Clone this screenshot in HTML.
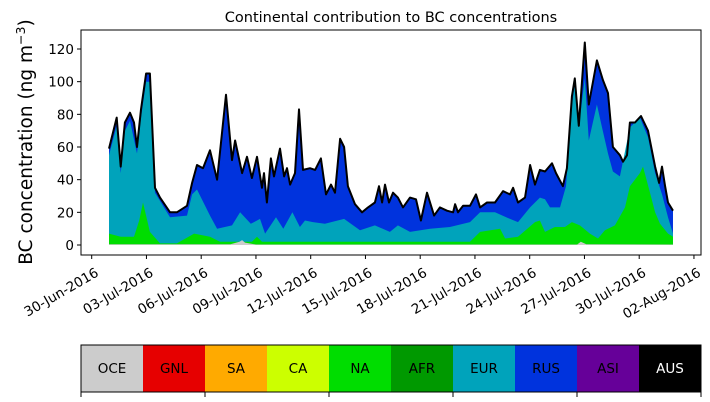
<!DOCTYPE html>
<html><head><meta charset="utf-8"><style>
body{margin:0;background:#fff}
svg{display:block;font-family:"DejaVu Sans","Liberation Sans",sans-serif}
</style></head><body>
<svg id="chart" width="710" height="402" viewBox="0 0 710 402">
<rect width="710" height="402" fill="#fff"/>
<text x="391" y="22" font-size="14.5" text-anchor="middle">Continental contribution to BC concentrations</text>
<text transform="translate(32,142) rotate(-90)" font-size="18.5" text-anchor="middle">BC concentration (ng m<tspan baseline-shift="super" font-size="12.5">−3</tspan>)</text>
<g id="layers"></g>
<g id="yticks"></g>
<g id="xticks"></g>
<rect x="81" y="30" width="620" height="225" fill="none" stroke="#000" stroke-width="1"/>
<g id="legend"></g>
</svg>
<script>
// Data: days since 30-Jun-2016
const totalDays=[0.95,1.37,1.59,1.82,2.10,2.32,2.48,2.70,2.98,3.19,3.47,3.74,4.29,4.67,5.22,5.50,5.77,6.10,6.48,6.87,7.36,7.69,7.86,8.24,8.51,8.78,9.06,9.33,9.44,9.60,9.82,9.99,10.32,10.54,10.70,10.87,11.14,11.36,11.58,11.96,12.24,12.56,12.84,13.11,13.33,13.61,13.83,14.04,14.43,14.81,15.14,15.52,15.74,15.91,16.07,16.29,16.51,16.78,17.06,17.44,17.77,18.04,18.37,18.76,19.08,19.47,19.80,19.91,20.07,20.35,20.73,21.06,21.28,21.66,22.10,22.54,22.92,23.09,23.36,23.74,24.02,24.29,24.56,24.84,25.22,25.44,25.82,26.04,26.31,26.47,26.69,27.02,27.24,27.68,28.01,28.29,28.56,28.94,29.11,29.33,29.49,29.77,30.10,30.48,30.87,31.09,31.25,31.42,31.58,31.85];
const totalValues=[59,78,48,75,81,75,60,83,105,105,35,29,20,20,24,38,49,47,58,40,92,52,64,44,54,41,54,35,44,26,53,42,59,42,47,37,44,83,46,47,46,53,31,37,32,65,60,36,25,20,23,26,36,26,37,26,32,29,23,29,28,15,32,18,23,21,20,25,20,24,24,31,23,26,26,33,31,35,26,29,49,37,46,45,50,44,36,47,91,102,73,124,86,113,101,93,60,55,51,55,75,75,79,70,48,38,48,36,26,21];
const eurDays=[0.95,1.37,1.59,1.82,2.10,2.48,2.70,2.98,3.19,3.47,4.29,5.22,5.50,5.77,6.48,6.87,7.69,8.13,8.72,9.22,9.50,10.10,10.50,11.00,11.41,11.69,12.12,12.78,13.83,14.70,15.52,16.34,16.78,17.44,18.54,19.63,20.73,21.28,22.10,22.92,23.36,24.02,24.56,24.84,25.11,25.66,25.99,26.31,26.47,26.69,27.02,27.24,27.68,27.96,28.29,28.56,28.94,29.49,30.04,30.48,30.87,31.25,31.58,31.85];
const eurValues=[55,73,44,70,76,56,78,100,100,32,17,18,31,34,18,10,12,20,13,16,7,17,10,20,11,15,14,13,16,9,12,8,12,8,10,11,14,20,20,16,14,23,29,28,23,23,36,85,99,72,102,64,86,72,56,45,42,72,78,66,44,31,17,7];
const naDays=[0.95,1.59,2.32,2.60,2.81,3.19,3.74,4.67,5.61,6.48,7.03,7.91,8.78,9.06,9.33,11.00,14.00,17.50,20.73,21.28,22.38,22.65,23.36,24.29,24.56,24.84,25.38,25.93,26.31,26.75,27.30,27.74,28.12,28.67,29.22,29.49,30.04,30.21,30.59,30.87,31.14,31.58,31.85];
const naValues=[7,5,5,15,26,8,1,1,7,5,2,2,2,5,2,2,2,2,2,8,10,4,5,14,15,8,11,11,14,12,7,4,9,12,23,36,44,48,32,20,13,7,5];
const oceDays=[0.95,7.6,8.1,8.24,8.4,9.0,26.6,26.8,27.1,31.85];
const oceValues=[0.5,0.5,2,3,1.5,0.3,0.3,2,0.5,0.3];
const yTicks=[0,20,40,60,80,100,120];
const xTickDays=[0,3,6,9,12,15,18,21,24,27,30,33];
const xTickLabels=["30-Jun-2016","03-Jul-2016","06-Jul-2016","09-Jul-2016","12-Jul-2016","15-Jul-2016","18-Jul-2016","21-Jul-2016","24-Jul-2016","27-Jul-2016","30-Jul-2016","02-Aug-2016"];
const legendNames=["OCE","GNL","SA","CA","NA","AFR","EUR","RUS","ASI","AUS"];
const legendColors=["#cccccc","#e60000","#ffaa00","#ccff00","#00dd00","#009900","#00a3bb","#0033dd","#660099","#000000"];

const NS="http://www.w3.org/2000/svg";
const xS=d=>91.7+d*18.25;
const yS=v=>245-v*(196/120);
function mk(tag,attrs,parent){const e=document.createElementNS(NS,tag);for(const k in attrs)e.setAttribute(k,attrs[k]);parent.appendChild(e);return e;}
function areaPath(days,vals){let d="M"+xS(days[0])+","+yS(0);for(let i=0;i<days.length;i++)d+=" L"+xS(days[i]).toFixed(1)+","+yS(vals[i]).toFixed(1);d+=" L"+xS(days[days.length-1])+","+yS(0)+" Z";return d;}
function linePath(days,vals){let d="";for(let i=0;i<days.length;i++)d+=(i?" L":"M")+xS(days[i]).toFixed(1)+","+yS(vals[i]).toFixed(1);return d;}
const layers=document.getElementById('layers');
let p;
p=mk('path',{d:areaPath(totalDays,totalValues),fill:'#0033dd'},layers);


p=mk('path',{d:areaPath(eurDays,eurValues),fill:'#00a3bb'},layers);


p=mk('path',{d:areaPath(naDays,naValues),fill:'#00dd00'},layers);


p=mk('path',{d:areaPath(oceDays,oceValues),fill:'#cccccc'},layers);


p=mk('path',{d:linePath(totalDays,totalValues),fill:'none',stroke:'#000','stroke-width':2,'stroke-linejoin':'round'},layers);



const yg=document.getElementById('yticks');
yTicks.forEach(v=>{
  const t=mk('line',{x1:77,x2:81,y1:yS(v),y2:yS(v),stroke:'#000'},yg);
  
  
  const l=mk('text',{x:74,y:yS(v)+5,'font-size':13.5,'text-anchor':'end'},yg);
  l.textContent=v;
  
  
});
const xg=document.getElementById('xticks');
xTickDays.forEach((d,i)=>{
  const x=xS(d);
  const t=mk('line',{x1:x,x2:x,y1:255,y2:259,stroke:'#000'},xg);
  
  
  const l=mk('text',{transform:'translate('+(x+3)+',267) rotate(-30)','font-size':13.5,'text-anchor':'end','dominant-baseline':'hanging'},xg);
  l.textContent=xTickLabels[i];
  
  
});
const lg=document.getElementById('legend');
const w=62;
legendNames.forEach((n,i)=>{
  const r=mk('rect',{x:81+i*w,y:345,width:w,height:47,fill:legendColors[i]},lg);
  
  
  const t=mk('text',{x:81+i*w+w/2,y:373,'font-size':13.5,'text-anchor':'middle',fill:n==='AUS'?'#fff':'#000'},lg);
  t.textContent=n;
  
  
});
const fr=mk('rect',{x:81,y:345,width:620,height:47,fill:'none',stroke:'#000'},lg);


for(let i=0;i<=5;i++){
  const t=mk('line',{x1:81+i*124,x2:81+i*124,y1:392,y2:397,stroke:'#000'},lg);
  
  
}
</script>
</body></html>
